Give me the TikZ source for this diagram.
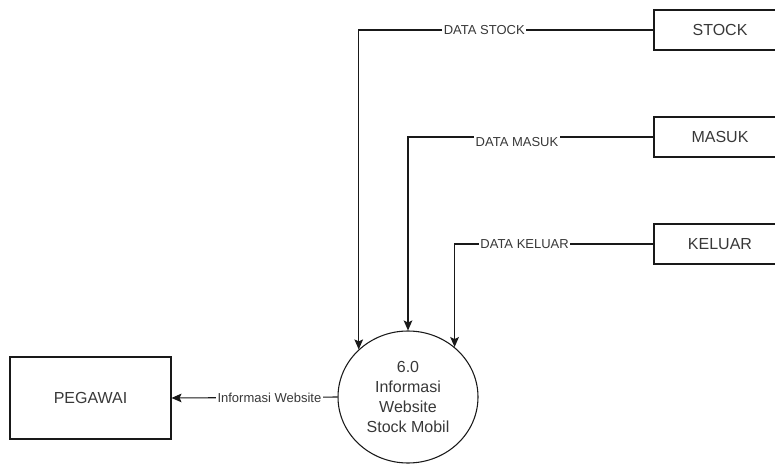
\documentclass[tikz,border=0pt]{standalone}
\usepackage{fontspec}
\setmainfont{Liberation Sans}
\usepackage{tikz}
\usetikzlibrary{arrows.meta,shapes.geometric}
\tikzset{>={Stealth[length=7.5pt,width=6.5pt,inset=1.5pt]}}
\usepackage{xcolor}
\colorlet{linecol}{black!90}
\colorlet{txtcol}{black!78}
\tikzstyle{entity}=[draw=linecol,thick,rectangle,text=txtcol,font=\fontsize{12}{14}\selectfont]
\tikzstyle{process}=[draw=linecol,thick,ellipse,inner sep=0pt,minimum width=105pt,minimum height=99pt,
  align=center,text=txtcol,font=\fontsize{12}{15}\selectfont]
\tikzstyle{flow}=[->,thick,linecol]
\tikzstyle{flowlbl}=[fill=white,inner sep=1pt,text=txtcol,font=\fontsize{9.75}{11}\selectfont]

\begin{document}
\begin{tikzpicture}[x=0.75pt,y=-0.75pt,line join=miter]
  \useasboundingbox (0,0) rectangle (775,464);

  \node[entity,minimum width=99pt,minimum height=30pt] (stock) at (720,30) {STOCK};
  \node[entity,minimum width=99pt,minimum height=30pt] (masuk) at (720,137) {MASUK};
  \node[entity,minimum width=99pt,minimum height=30pt] (keluar) at (720,244) {KELUAR};
  \node[entity,minimum width=120.75pt,minimum height=61.5pt] (pegawai) at (90.5,398) {PEGAWAI};
  \node[process] (proc) at (408,397) {6.0\\Informasi\\Website\\Stock Mobil};

  \draw[flow] (stock.west) -| (proc.136) node[flowlbl,pos=0.287] {DATA STOCK};
  \draw[flow] (masuk.west) -| (proc.north) node[flowlbl,pos=0.278,below=-1pt] {DATA MASUK};
  \draw[flow] (keluar.west) -| (proc.47) node[flowlbl,pos=0.324] {DATA KELUAR};
  \draw[flow] (proc.west) -- (pegawai.east) node[flowlbl,pos=0.41] {Informasi Website};
\end{tikzpicture}
\end{document}
